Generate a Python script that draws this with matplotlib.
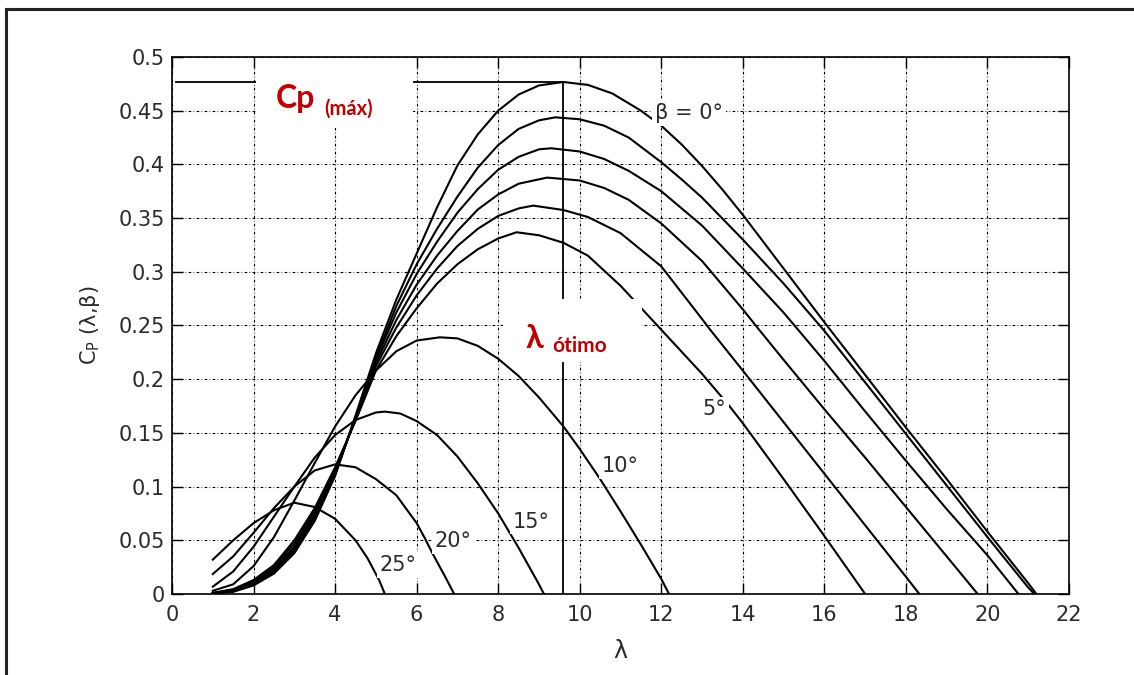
import numpy as np
import matplotlib.pyplot as plt
from matplotlib.patches import Rectangle
from matplotlib.lines import Line2D

# Cp(lambda, beta) readings, one pair of lists per pitch angle
lam_b0 = [1, 1.5, 2, 2.5, 3, 3.5, 4, 4.5, 5, 5.5, 6, 6.5, 7, 7.5, 8, 8.5, 9, 9.6, 10.2, 10.8, 11.5, 12, 12.5, 13, 13.5, 14, 14.5, 15, 16, 17, 18, 19, 20, 21, 21.2]
cp_b0 = [0.0005, 0.002, 0.008, 0.019, 0.038, 0.068, 0.110, 0.166, 0.224, 0.274, 0.317, 0.360, 0.399, 0.428, 0.450, 0.465, 0.4735, 0.4767, 0.474, 0.466, 0.450, 0.436, 0.4185, 0.3985, 0.3765, 0.353, 0.328, 0.303, 0.253, 0.204, 0.155, 0.107, 0.058, 0.010, 0.0]

lam_b1 = [1, 1.5, 2, 2.5, 3, 3.5, 4, 4.5, 5, 5.5, 6, 6.5, 7, 7.5, 8, 8.5, 9, 9.4, 10, 10.6, 11.2, 12, 12.5, 13, 14, 15, 16, 17, 18, 19, 20, 21, 21.15]
cp_b1 = [0.0006, 0.0025, 0.009, 0.020, 0.040, 0.070, 0.111, 0.165, 0.220, 0.268, 0.307, 0.340, 0.370, 0.397, 0.418, 0.433, 0.441, 0.4438, 0.442, 0.436, 0.425, 0.402, 0.386, 0.369, 0.330, 0.289, 0.245, 0.197, 0.149, 0.101, 0.053, 0.006, 0.0]

lam_b2 = [1, 1.5, 2, 2.5, 3, 3.5, 4, 4.5, 5, 5.5, 6, 6.5, 7, 7.5, 8, 8.5, 9, 9.3, 10, 10.6, 11.2, 12, 13, 14, 15, 16, 17, 18, 19, 20, 20.76]
cp_b2 = [0.0007, 0.003, 0.010, 0.021, 0.042, 0.072, 0.112, 0.164, 0.218, 0.262, 0.298, 0.328, 0.355, 0.377, 0.395, 0.407, 0.414, 0.415, 0.412, 0.405, 0.394, 0.375, 0.343, 0.303, 0.262, 0.217, 0.170, 0.124, 0.079, 0.036, 0.0]

lam_b3 = [1, 1.5, 2, 2.5, 3, 3.5, 4, 4.5, 5, 5.5, 6, 6.5, 7, 7.5, 8, 8.5, 9.2, 10, 10.6, 11.2, 12, 13, 14, 14.4, 15, 16, 17, 18, 19, 19.76]
cp_b3 = [0.0008, 0.0035, 0.011, 0.023, 0.044, 0.074, 0.114, 0.163, 0.215, 0.255, 0.288, 0.315, 0.338, 0.358, 0.372, 0.382, 0.3877, 0.385, 0.378, 0.367, 0.345, 0.310, 0.265, 0.246, 0.218, 0.172, 0.127, 0.081, 0.035, 0.0]

lam_b4 = [1, 1.5, 2, 2.5, 3, 3.5, 4, 4.5, 5, 5.5, 6, 6.5, 7, 7.5, 8, 8.5, 8.86, 9.6, 10.2, 11, 12, 13, 13.2, 14, 15, 16, 17, 18, 18.33]
cp_b4 = [0.001, 0.004, 0.012, 0.025, 0.047, 0.077, 0.116, 0.162, 0.212, 0.248, 0.278, 0.303, 0.324, 0.340, 0.352, 0.359, 0.3616, 0.3575, 0.351, 0.336, 0.305, 0.256, 0.246, 0.208, 0.160, 0.112, 0.064, 0.016, 0.0]

lam_b5 = [1, 1.5, 2, 2.5, 3, 3.5, 4, 4.5, 5, 5.5, 6, 6.5, 7, 7.5, 8, 8.45, 9, 9.6, 10.2, 11, 12, 13, 13.67, 14, 15, 16, 17]
cp_b5 = [0.001, 0.0045, 0.013, 0.027, 0.050, 0.080, 0.118, 0.161, 0.208, 0.240, 0.266, 0.289, 0.307, 0.321, 0.331, 0.3368, 0.334, 0.327, 0.315, 0.287, 0.246, 0.205, 0.175, 0.159, 0.107, 0.054, 0.0]

lam_b10 = [1, 1.5, 2, 2.5, 3, 3.5, 4, 4.5, 5, 5.5, 6, 6.57, 7, 7.5, 8, 8.5, 9, 9.6, 10, 10.5, 11, 11.5, 12, 12.19]
cp_b10 = [0.003, 0.009, 0.026, 0.053, 0.087, 0.122, 0.156, 0.185, 0.208, 0.226, 0.236, 0.239, 0.238, 0.231, 0.219, 0.203, 0.183, 0.156, 0.135, 0.107, 0.077, 0.046, 0.014, 0.0]

lam_b15 = [1, 1.5, 2, 2.5, 3, 3.5, 4, 4.5, 5, 5.22, 5.6, 6, 6.5, 7, 7.5, 8, 8.5, 9, 9.12]
cp_b15 = [0.0068, 0.021, 0.044, 0.072, 0.100, 0.127, 0.148, 0.162, 0.169, 0.1698, 0.168, 0.161, 0.148, 0.128, 0.103, 0.075, 0.043, 0.009, 0.0]

lam_b20 = [1, 1.5, 2, 2.5, 3, 3.5, 4, 4.5, 5, 5.5, 6, 6.2, 6.4, 6.7, 6.92]
cp_b20 = [0.0186, 0.035, 0.057, 0.080, 0.100, 0.115, 0.1207, 0.118, 0.107, 0.092, 0.066, 0.052, 0.037, 0.016, 0.0]

lam_b25 = [1, 1.5, 2, 2.5, 3, 3.5, 4, 4.5, 4.8, 5.09, 5.22]
cp_b25 = [0.032, 0.050, 0.066, 0.078, 0.085, 0.081, 0.070, 0.050, 0.033, 0.012, 0.0]

curves = [(lam_b0, cp_b0), (lam_b1, cp_b1), (lam_b2, cp_b2), (lam_b3, cp_b3),
          (lam_b4, cp_b4), (lam_b5, cp_b5), (lam_b10, cp_b10), (lam_b15, cp_b15),
          (lam_b20, cp_b20), (lam_b25, cp_b25)]

# curve labels: text, lambda, Cp
label_text = ['\u03b2 = 0\u00b0', '5\u00b0', '10\u00b0', '15\u00b0', '20\u00b0', '25\u00b0']
label_lam = [12.68, 13.3, 10.99, 8.8, 6.9, 5.54]
label_cp = [0.448, 0.172, 0.119, 0.0675, 0.049, 0.027]

cp_max = 0.4767
lam_opt = 9.6

xticks = list(range(0, 23, 2))
yticks = [0, 0.05, 0.1, 0.15, 0.2, 0.25, 0.3, 0.35, 0.4, 0.45, 0.5]
ytick_labels = ['0', '0.05', '0.1', '0.15', '0.2', '0.25', '0.3', '0.35', '0.4', '0.45', '0.5']

red = '#c00000'
grey = '#2a2a2a'

fig = plt.figure(figsize=(11.34, 6.75), dpi=100)
ax = fig.add_axes([0.1517, 0.12, 0.7910, 0.7956])

for lam, cp in curves:
    ax.plot(lam, cp, color='black', linewidth=1.5, zorder=3)

# optimum markers
ax.plot([0.1, lam_opt], [cp_max, cp_max], color='black', linewidth=1.3, zorder=3)
ax.plot([lam_opt, lam_opt], [0, cp_max], color='black', linewidth=1.3, zorder=3)

# white boxes under the red annotations
ax.add_patch(Rectangle((2.06, 0.434), 3.85, 0.0655, facecolor='white', edgecolor='none', zorder=4))
ax.add_patch(Rectangle((8.12, 0.216), 3.41, 0.059, facecolor='white', edgecolor='none', zorder=4))

fam = ['Lato', 'DejaVu Sans']
ax.text(2.55, 0.4525, 'Cp', color=red, fontsize=23, fontweight='bold', family=fam, va='baseline', zorder=5)
ax.text(3.74, 0.446, '(m\u00e1x)', color=red, fontsize=14.5, fontweight='bold', family=fam, va='baseline', zorder=5)
ax.text(8.68, 0.229, '\u03bb', color=red, fontsize=23, fontweight='bold', family=fam, va='baseline', zorder=5)
ax.text(9.33, 0.2255, '\u00f3timo', color=red, fontsize=15, fontweight='bold', family=fam, va='baseline', zorder=5)

for t, x, y in zip(label_text, label_lam, label_cp):
    ax.text(x, y, t, color=grey, fontsize=15, ha='center', va='center', zorder=6,
            bbox=dict(facecolor='white', edgecolor='none', pad=2))

ax.set_xlim(0, 22)
ax.set_ylim(0, 0.5)
ax.set_xticks(xticks)
ax.set_yticks(yticks)
ax.set_yticklabels(ytick_labels)
ax.grid(True, color='black', linestyle=(0, (2.5, 2, 0.7, 2)), linewidth=0.8)
ax.set_axisbelow(True)
ax.tick_params(direction='in', length=8, width=1, top=True, right=True,
               labelsize=15, labelcolor=grey)
ax.tick_params(axis='x', pad=8)
ax.tick_params(axis='y', pad=5)
for s in ax.spines.values():
    s.set_linewidth(1.2)

ax.set_xlabel('\u03bb', fontsize=17, color=grey, labelpad=10)
ax.set_ylabel('C$_\\mathregular{P}$ (\u03bb,\u03b2)', fontsize=15, color=grey, labelpad=12)

# frame lines around the picture (top and left only)
fig.add_artist(Line2D([0.0057, 0.0057], [0, 0.9867], transform=fig.transFigure, color='#222222', linewidth=2.2))
fig.add_artist(Line2D([0.0057, 1], [0.9867, 0.9867], transform=fig.transFigure, color='#222222', linewidth=2.2))

fig.savefig('out.png', dpi=100)
